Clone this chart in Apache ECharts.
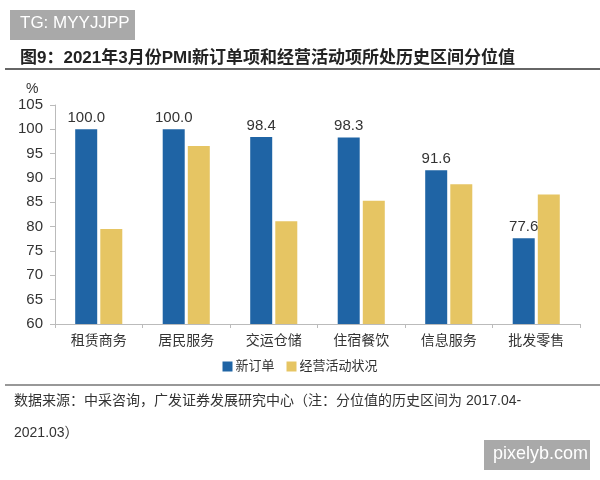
<!DOCTYPE html>
<html>
<head>
<meta charset="utf-8">
<script src="https://cdn.jsdelivr.net/npm/echarts@6/dist/echarts.min.js"></script>
<style>
  html, body { margin: 0; padding: 0; background: #fff; }
  #chart { width: 600px; height: 480px; }
</style>
</head>
<body>
<div id="chart"></div>
<script>
// categories and series
const categories = ['租赁商务', '居民服务', '交运仓储', '住宿餐饮', '信息服务', '批发零售']
const newOrders = [100.0, 100.0, 98.4, 98.3, 91.6, 77.6]
const businessActivity = [79.5, 96.6, 81.1, 85.3, 88.7, 86.6]
const seriesNames = ['新订单', '经营活动状况']

const cjk = '"Liberation Sans", "Noto Sans CJK SC", sans-serif'
const chart = echarts.init(document.getElementById('chart'))

const option = {
  animation: false,
  backgroundColor: '#fff',
  title: {
    text: '图9：2021年3月份PMI新订单项和经营活动项所处历史区间分位值',
    left: 15,
    top: 45,
    textStyle: { fontSize: 17, fontWeight: 'bold', color: '#222', fontFamily: cjk }
  },
  legend: {
    data: seriesNames,
    top: 355,
    left: 'center',
    itemWidth: 10,
    itemHeight: 10,
    itemGap: 12,
    icon: 'rect',
    textStyle: { fontSize: 13, color: '#333', fontFamily: cjk, padding: [0, 0, 0, -2] }
  },
  grid: { left: 55, right: 20, top: 105, bottom: 156 },
  xAxis: {
    type: 'category',
    data: categories,
    axisLine: { lineStyle: { color: '#bbb' } },
    axisTick: { show: true, length: 4, lineStyle: { color: '#bbb' } },
    axisLabel: { fontSize: 14, color: '#333', margin: 10, fontFamily: cjk }
  },
  yAxis: {
    type: 'value',
    min: 60,
    max: 105,
    interval: 5,
    splitLine: { show: false },
    axisLine: { show: true, lineStyle: { color: '#bbb' } },
    axisTick: { show: true, length: 5, lineStyle: { color: '#bbb' } },
    axisLabel: { fontSize: 15, color: '#333', margin: 12, fontFamily: cjk }
  },
  series: [
    {
      name: seriesNames[0],
      type: 'bar',
      data: newOrders,
      barWidth: 22,
      barGap: '14%',
      itemStyle: { color: '#1f64a5' },
      label: {
        show: true,
        position: 'top',
        distance: 4,
        fontSize: 15,
        color: '#333',
        fontFamily: cjk,
        formatter: p => p.value.toFixed(1)
      }
    },
    {
      name: seriesNames[1],
      type: 'bar',
      data: businessActivity,
      barWidth: 22,
      itemStyle: { color: '#e6c563' }
    }
  ],
  graphic: [
    // watermark top-left
    { type: 'rect', left: 10, top: 10, shape: { width: 125, height: 30 }, style: { fill: '#a9a9a9' } },
    { type: 'text', left: 20, top: 15, style: { text: 'TG: MYYJJPP', fill: '#fff', font: '17px "Liberation Sans", sans-serif' } },
    // rule under title
    { type: 'line', shape: { x1: 5, y1: 69, x2: 600, y2: 69 }, style: { stroke: '#333', lineWidth: 1.5 } },
    // unit
    { type: 'text', left: 26, top: 82, style: { text: '%', fill: '#333', font: '14px "Liberation Sans", sans-serif' } },
    // footer
    { type: 'line', shape: { x1: 5, y1: 385, x2: 600, y2: 385 }, style: { stroke: '#333', lineWidth: 1.2 } },
    { type: 'text', left: 14, top: 394, style: { text: '数据来源：中采咨询，广发证券发展研究中心（注：分位值的历史区间为 2017.04-', fill: '#333', font: '14px "Liberation Sans", "Noto Sans CJK SC", sans-serif' } },
    { type: 'text', left: 14, top: 426, style: { text: '2021.03）', fill: '#333', font: '14px "Liberation Sans", "Noto Sans CJK SC", sans-serif' } },
    // watermark bottom-right
    { type: 'rect', left: 484, top: 440, shape: { width: 106, height: 30 }, style: { fill: '#a9a9a9' } },
    { type: 'text', left: 493, top: 445, style: { text: 'pixelyb.com', fill: '#fff', font: '18px "Liberation Sans", sans-serif' } }
  ]
}

chart.setOption(option)
</script>
</body>
</html>
